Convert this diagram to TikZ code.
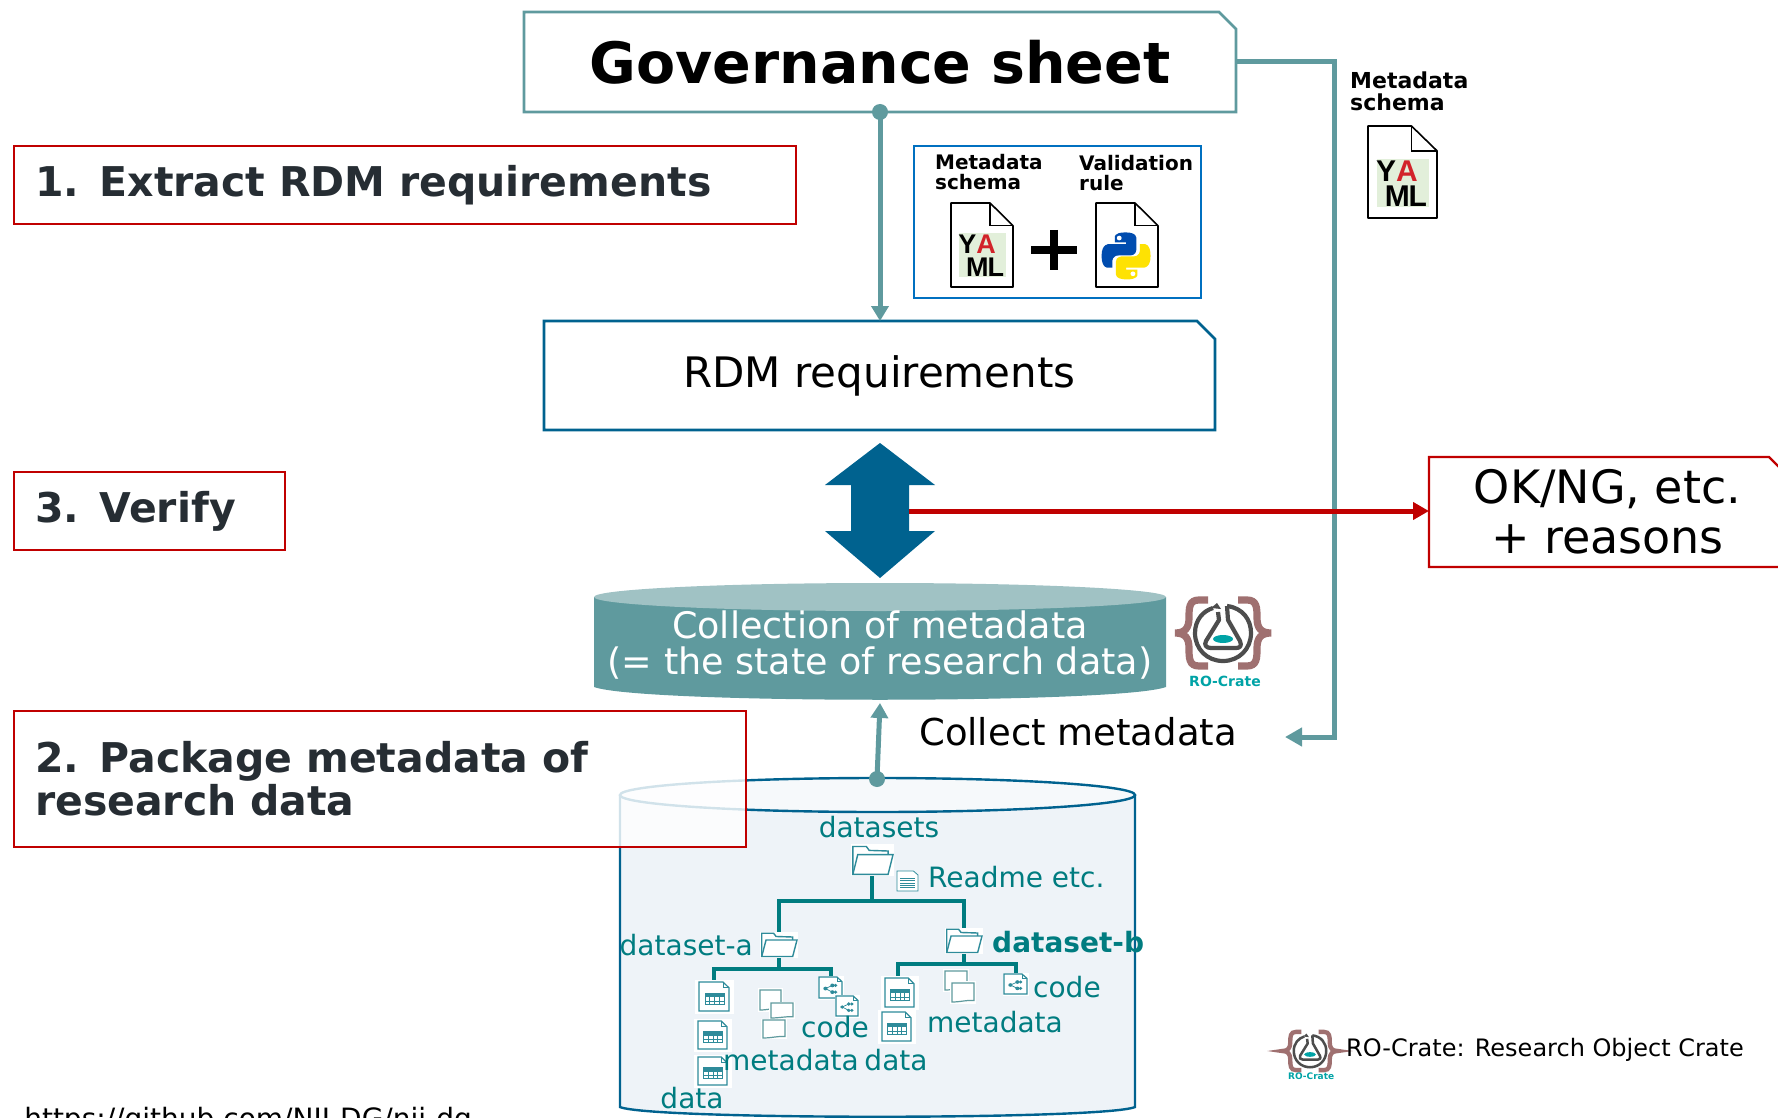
\documentclass[tikz,border=0pt]{standalone}
\usepackage{fontspec}
\setmainfont{DejaVu Sans}
\newfontfamily\yamlfont{Liberation Sans}
\usetikzlibrary{arrows.meta}
\definecolor{tealline}{HTML}{5F9A9E}
\definecolor{tealtop}{HTML}{A0C2C4}
\definecolor{deepblue}{HTML}{00628F}
\definecolor{redline}{HTML}{C00000}
\definecolor{darktext}{HTML}{262D33}
\definecolor{treeteal}{HTML}{007C80}
\definecolor{icoteal}{HTML}{2E8B9A}
\definecolor{cylfill}{HTML}{EEF3F8}
\definecolor{schemablue}{HTML}{0070C0}
\definecolor{browbrace}{HTML}{9F7070}
\definecolor{logogray}{HTML}{4D4D4D}
\definecolor{logoteal}{HTML}{00A3A6}
\definecolor{yamlgreen}{HTML}{E2EFDA}
\definecolor{yamlred}{HTML}{D2232A}
\newcommand{\fsz}[1]{\fontsize{#1}{#1}\selectfont}
\tikzset{
 x=1pt,y=-1pt,
 framebox/.style={minimum width=#1,inner sep=0pt,outer sep=0pt},
 redbox/.style={draw=redline,line width=2.2pt,fill=white,inner ysep=0pt,inner xsep=21pt,outer sep=0pt,align=left,text=darktext,font=\bfseries\fsz{41}},
 tealflow/.style={draw=tealline,line width=5pt},
 treeline/.style={draw=treeteal,line width=3.6pt},
 treetext/.style={text=treeteal,inner sep=0pt,font=\fsz{28}},
 smalllabel/.style={inner sep=0pt,anchor=west,font=\bfseries\fsz{20},align=left},
 icoline/.style={draw=icoteal,line width=1.2pt,fill=white},
 halo/.style={fill=white,draw=none},
}
% #1 x, #2 y, #3 w, #4 h, #5 font size, #6 name
\newcommand{\yamlicon}[6]{%
\begin{scope}[shift={(#1,#2)},xscale=#3/100,yscale=#4/100]
\draw[black,line width=1.6pt,fill=white,line join=round] (0,0)--(63,0)--(100,27)--(100,100)--(0,100)--cycle;
\draw[black,line width=1.6pt] (63,0)--(63,27)--(100,27);
\fill[yamlgreen] (13,36) rectangle (88,88);
\node[inner sep=0pt,font=\yamlfont\bfseries\fsz{#5}] (#6-ya) at (42,49) {\addfontfeature{LetterSpace=-4}Y\textcolor{yamlred}{A}};
\node[inner sep=0pt,font=\yamlfont\bfseries\fsz{#5}] (#6-ml) at (55,76) {\addfontfeature{LetterSpace=-4}ML};
\end{scope}}
\newcommand{\tabledoc}[4]{%
\begin{scope}[shift={(#1,#2)},xscale=#3/100,yscale=#4/100]
\fill[halo] (-15,-8) rectangle (118,110);
\draw[icoline] (0,0)--(80,0)--(100,20)--(100,100)--(0,100)--cycle;
\draw[icoline,fill=none,line width=.7pt] (80,0)--(80,20)--(100,20);
\fill[icoteal] (20,38) rectangle (84,52);
\draw[icoteal,line width=.7pt] (20,38) rectangle (84,78);
\foreach \u in {36,52,68} \draw[icoteal,line width=.7pt] (\u,52)--(\u,78);
\draw[icoteal,line width=.7pt] (20,65)--(84,65);
\end{scope}}
\newcommand{\metadoc}[4]{%
\begin{scope}[shift={(#1,#2)},xscale=#3/100,yscale=#4/100]
\fill[halo] (-8,-8) rectangle (108,108);
\draw[icoline,draw=tealline] (0,0)--(100,0)--(100,92).. controls (70,88) and (40,100) .. (0,100)--cycle;
\end{scope}}
\newcommand{\codedoc}[4]{%
\begin{scope}[shift={(#1,#2)},xscale=#3/100,yscale=#4/100]
\fill[halo] (-6,-6) rectangle (108,108);
\draw[icoline] (0,0)--(78,0)--(100,22)--(100,100)--(0,100)--cycle;
\draw[icoline,fill=none,line width=.7pt] (78,0)--(78,22)--(100,22);
\draw[icoteal,line width=.7pt] (28,55)--(58,40) (28,55)--(58,72);
\fill[icoteal] (28,55) circle[x radius=9,y radius=9];
\fill[icoteal] (58,40) circle[x radius=9,y radius=9];
\fill[icoteal] (72,40) circle[x radius=8,y radius=8];
\fill[icoteal] (58,72) circle[x radius=9,y radius=9];
\fill[icoteal] (72,72) circle[x radius=8,y radius=8];
\end{scope}}
\newcommand{\foldericon}[4]{%
\begin{scope}[shift={(#1,#2)},xscale=#3/100,yscale=#4/100]
\fill[halo] (-2,-2) rectangle (102,102);
\draw[icoline,line width=1.4pt] (2,98)--(2,5)--(35,5)--(42,18)--(88,20)--(88,40);
\draw[icoline,line width=1.4pt] (2,98)--(14,32)--(100,32)--(88,98)--cycle;
\end{scope}}
% #1 x, #2 y, #3 scale, #4 label font size, #5 name, #6 line width, #7 label y
\newcommand{\rologo}[7]{%
\begin{scope}[shift={(#1,#2)},scale=#3]
\foreach \s in {1,-1}{
\draw[browbrace,line width=#6*1.2pt,xscale=\s] (-15,-33)--(-24,-33).. controls (-34,-33) and (-34,-25) .. (-34,-15).. controls (-34,-5) and (-38,0) .. (-48,0).. controls (-38,0) and (-34,5) .. (-34,15).. controls (-34,25) and (-34,33) .. (-24,33)--(-15,33);}
\draw[logogray,line width=#6*.7pt,line join=round] (4,-27).. controls (20,-25) and (28,-13) .. (28,0).. controls (28,16) and (16,28) .. (0,28).. controls (-16,28) and (-28,16) .. (-28,0).. controls (-28,-13) and (-20,-22) .. (-10,-25);
\draw[logogray,line width=#6*.7pt,line join=round] (4,-27)--(5,-13)--(17,8).. controls (19,13) and (17,15) .. (13,15)--(-12,15).. controls (-17,15) and (-19,12) .. (-17,8)--(-4,-13)--(-5,-21);
\fill[logogray] (-12,-25)--(-6,-30)--(-2,-24)--cycle;
\fill[logoteal] (0,6) ellipse[x radius=10,y radius=4];
\node[inner sep=0pt,text=logoteal,font=\bfseries\fsz{#4}] (#5) at (2,#7) {RO-Crate};
\end{scope}}
\begin{document}
\begin{tikzpicture}
\useasboundingbox (0,0) rectangle (1778,1118);
\clip (0,0) rectangle (1778,1118);

% lower cylinder
\draw[fill=cylfill,draw=deepblue,line width=2.4pt] (620,795)--(620,1107) .. controls (650,1120) and (1105,1120) .. (1135,1107)--(1135,795);
\draw[fill=cylfill!50!white,draw=deepblue,line width=2.4pt] (877.5,795) ellipse[x radius=257.5,y radius=17];
\coordinate (dbtop) at (877,779);

% green cylinder
\fill[tealline] (594,597)--(594,687) .. controls (640,704) and (1120,704) .. (1166,687)--(1166,597)--cycle;
\fill[tealtop] (880,597) ellipse[x radius=286,y radius=14];
\node[inner sep=0pt,text=white,align=center,font=\fsz{36.5}] (coll) at (880,645) {Collection of metadata\\[-1pt](= the state of research data)};
\coordinate (colltop) at (880,703);

% red label boxes
\node[redbox,minimum width=782pt,minimum height=78pt,text width=740pt] (ext) at (405,185) {1. Extract RDM requirements};
\node[redbox,minimum width=271pt,minimum height=78pt,text width=229pt] (ver) at (149.5,511) {3. Verify};
\node[redbox,fill opacity=.82,text opacity=1,minimum width=732pt,minimum height=136pt,text width=690pt] (pkg) at (380,779) {2. Package metadata of\\[2pt]research data};

% governance
\node[framebox=712pt,minimum height=100pt,font=\bfseries\fsz{57}] (gov) at (880,62) {Governance sheet};
\draw[draw=tealline,line width=2.6pt] (gov.north west)--([xshift=-17pt]gov.north east)--([yshift=-17pt]gov.north east)--(gov.south east)--(gov.south west)--cycle;

% RDM
\node[framebox=671pt,minimum height=109pt,font=\fsz{42}] (rdm) at (879.5,375.5) {RDM requirements};
\draw[draw=deepblue,line width=2.6pt] (rdm.north west)--([xshift=-18pt]rdm.north east)--([yshift=-18pt]rdm.north east)--(rdm.south east)--(rdm.south west)--cycle;

% OK box
\node[framebox=357pt,minimum height=110pt,align=center,font=\fsz{46}] (okng) at (1607.5,512) {OK/NG, etc.\\[4pt]+ reasons};
\draw[draw=redline,line width=2.2pt] (okng.north west)--([xshift=-17pt]okng.north east)--([yshift=-17pt]okng.north east)--(okng.south east)--(okng.south west)--cycle;

% schema box
\node[draw=schemablue,line width=1.2pt,minimum width=287pt,minimum height=152pt,inner sep=0pt] (schema) at (1057.5,222) {};
\node[smalllabel] (lab1) at (935,172.5) {Metadata\\schema};
\node[smalllabel] (lab2) at (1079,173.5) {Validation\\rule};
\yamlicon{951}{203}{62}{84}{27}{ya1}
\draw[black,line width=8pt] (1031,250)--(1077,250) (1054,230)--(1054,270);
\begin{scope}[shift={(1096,203)},xscale=.62,yscale=.84]
\draw[black,line width=1.6pt,fill=white,line join=round] (0,0)--(63,0)--(100,27)--(100,100)--(0,100)--cycle;
\draw[black,line width=1.6pt] (63,0)--(63,27)--(100,27);
\begin{scope}[shift={(9,35)},xscale=.79,yscale=.56]
\fill[color=blue!55!black!70!cyan] (49,0) .. controls (25,0) and (27,10) .. (27,10)--(27,21)--(50,21)--(50,25)--(15,25) .. controls (15,25) and (0,23) .. (0,50) .. controls (0,77) and (13,75) .. (13,75)--(22,75)--(22,62) .. controls (22,62) and (21,49) .. (35,49)--(58,49) .. controls (58,49) and (71,49) .. (71,37)--(71,13) .. controls (71,13) and (73,0) .. (49,0)--cycle;
\fill[color=yellow!85!orange] (51,100) .. controls (75,100) and (73,90) .. (73,90)--(73,79)--(50,79)--(50,75)--(85,75) .. controls (85,75) and (100,77) .. (100,50) .. controls (100,23) and (87,25) .. (87,25)--(78,25)--(78,38) .. controls (78,38) and (79,51) .. (65,51)--(42,51) .. controls (42,51) and (29,51) .. (29,63)--(29,87) .. controls (29,87) and (27,100) .. (51,100)--cycle;
\fill[white] (36,12) circle[x radius=5,y radius=5];
\fill[white] (64,88) circle[x radius=5,y radius=5];
\end{scope}
\end{scope}

% right schema
\node[smalllabel,font=\bfseries\fsz{22}] (lab3) at (1350,91.5) {Metadata\\schema};
\yamlicon{1368}{126}{69}{92}{30}{ya2}

% connectors
\fill[tealline] (gov.south) circle[radius=8pt];
\draw[tealflow,-{Triangle[length=15pt,width=17pt]}] (gov.south)--(rdm.north-|gov.south);
\coordinate (collecttip) at (1285,737);
\draw[tealflow,-{Triangle[length=17pt,width=18pt]}] (gov.east|-0,62)-|(1334,737)--(collecttip);
\fill[tealline] (dbtop) circle[radius=8pt];
\draw[tealflow,-{Triangle[length=15pt,width=17pt]}] (dbtop)--(colltop);

% double arrow
\coordinate (dbl) at (880,511);
\fill[deepblue] (880,443)--(935,485)--(909,485)--(909,531)--(935,531)--(880,578)--(825,531)--(851,531)--(851,485)--(825,485)--cycle;
\draw[draw=redline,line width=5pt,-{Triangle[length=16pt,width=17pt]}] (909,511)--(okng.west|-909,511);

% logo
\rologo{1223}{633}{1}{14}{rologo1}{6}{48}
\rologo{1310}{1051}{.58}{9}{rologo2}{3.6}{44}
\node[inner sep=0pt,anchor=west,font=\fsz{24}] (rotext) at (1346,1050) {RO-Crate: Research Object Crate};

\node[inner sep=0pt,anchor=west,font=\fsz{37}] (cm) at (919,732) {Collect metadata};
\node[inner sep=0pt,anchor=base east,font=\fsz{28}] (url) at (472,1128) {https://github.com/NII-DG/nii-dg};

% tree
\draw[treeline] (872,875)--(872,901) (779,932)--(779,901)--(964,901)--(964,928);
\draw[treeline] (779,957)--(779,969) (714,981)--(714,969)--(831,969)--(831,978);
\draw[treeline] (964,953)--(964,964) (898,977)--(898,964)--(1016,964)--(1016,973);
\node[treetext] (tds) at (879,827) {datasets};
\foldericon{852}{845}{41}{30}
\metadoc{897}{871}{0}{0}
\codedoc{-99}{-99}{0}{0}
\begin{scope}[shift={(897,871)},xscale=.21,yscale=.2]
\draw[icoline,line width=.8pt] (0,0)--(78,0)--(100,20)--(100,100)--(0,100)--cycle;
\foreach \u in {35,47,59,71,83} \draw[icoteal,line width=.5pt] (15,\u)--(85,\u);
\end{scope}
\node[treetext,anchor=west] (treadme) at (928,877) {Readme etc.};
\node[treetext,anchor=east] (tda) at (753,945) {dataset-a};
\foldericon{761}{932}{36}{25}
\foldericon{946}{928}{36}{25}
\node[treetext,anchor=west,font=\bfseries\fsz{28}] (tdb) at (992,942) {dataset-b};
\tabledoc{699}{982}{30}{29}
\tabledoc{698}{1021}{29}{28}
\tabledoc{698}{1057}{29}{28}
\tabledoc{885}{978}{29}{29}
\tabledoc{882}{1012}{29}{29}
\metadoc{760}{990}{21}{20}
\metadoc{771}{1003}{22}{15}
\metadoc{763}{1020}{22}{18}
\metadoc{945}{971}{22}{19}
\metadoc{952}{983}{22}{19}
\codedoc{819}{977}{23}{21}
\codedoc{836}{996}{22}{20}
\codedoc{1004}{974}{23}{20}
\node[treetext] (tcodea) at (835,1027) {code};
\node[treetext,anchor=west] (tcodeb) at (1033,987) {code};
\node[treetext] (tmetab) at (995,1022) {metadata};
\node[treetext] (tmetaa) at (791,1060) {metadata};
\node[treetext] (tdatab) at (896,1060) {data};
\node[treetext] (tdataa) at (692,1098) {data};
\end{tikzpicture}
\end{document}
